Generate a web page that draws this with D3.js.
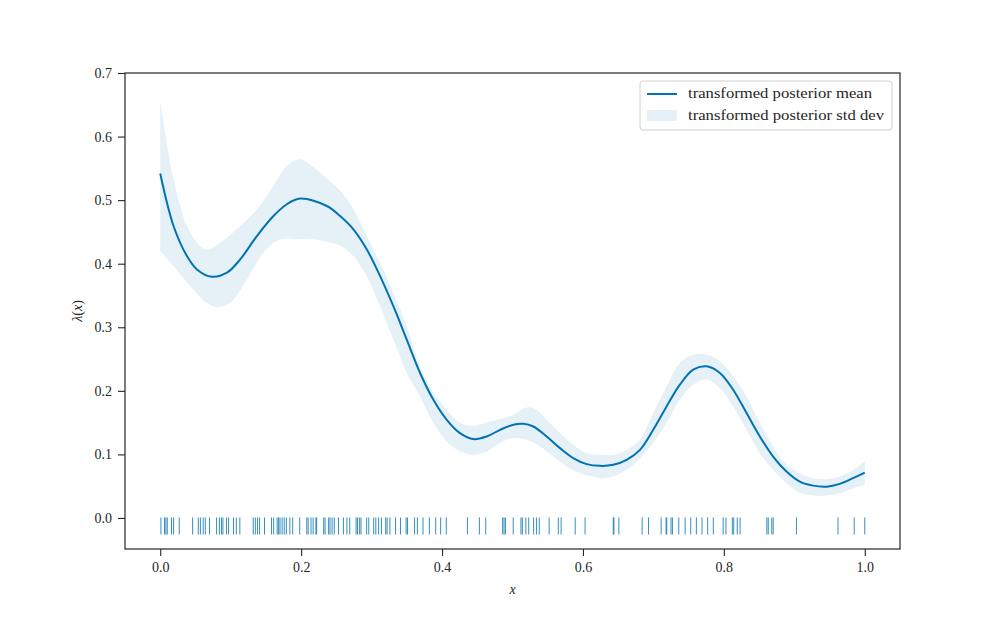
<!DOCTYPE html>
<html><head><meta charset="utf-8">
<script src="https://cdn.jsdelivr.net/npm/d3@7"></script>
<style>body{margin:0;background:#fff}svg{display:block}text{font-family:"Liberation Serif","DejaVu Serif",serif;fill:#262626}</style>
</head><body><svg id="c" width="1000" height="618"></svg>
<script>
const meanX=[0,0.0189,0.0379,0.0521,0.0733,0.0946,0.1135,0.1372,0.1607,0.1797,0.1986,0.2365,0.2553,0.2742,0.2932,0.3121,0.3309,0.3499,0.3688,0.3877,0.4067,0.4255,0.4444,0.4634,0.4823,0.5011,0.5153,0.5295,0.5485,0.5674,0.5862,0.6052,0.6241,0.6430,0.6620,0.6809,0.6997,0.7187,0.7376,0.7565,0.7755,0.7943,0.8132,0.8322,0.8511,0.8699,0.8889,0.9078,0.9267,0.9457,0.9645,0.9834,1.0];
const meanY=[0.5419,0.4593,0.4120,0.3910,0.3795,0.3858,0.4068,0.4435,0.4750,0.4935,0.5024,0.4908,0.4750,0.4541,0.4225,0.3804,0.3331,0.2806,0.2281,0.1860,0.1545,0.1335,0.1241,0.1282,0.1387,0.1466,0.1482,0.1439,0.1282,0.1099,0.0941,0.0847,0.0820,0.0836,0.0914,0.1072,0.1387,0.1755,0.2097,0.2333,0.2385,0.2281,0.2018,0.1651,0.1282,0.0966,0.0730,0.0572,0.0509,0.0493,0.0536,0.0626,0.0714];
const upperX=[0,0.0189,0.0379,0.0543,0.0662,0.0851,0.1135,0.1372,0.1607,0.1797,0.1986,0.2174,0.2365,0.2553,0.2742,0.2932,0.3121,0.3309,0.3499,0.3688,0.3877,0.4067,0.4255,0.4444,0.4634,0.4823,0.5011,0.5201,0.5343,0.5485,0.5674,0.5862,0.6052,0.6241,0.6430,0.6620,0.6809,0.6997,0.7187,0.7376,0.7565,0.7755,0.7943,0.8132,0.8322,0.8511,0.8699,0.8889,0.9078,0.9267,0.9457,0.9645,0.9834,1.0];
const upperY=[0.6563,0.5329,0.4593,0.4304,0.4225,0.4331,0.4593,0.4856,0.5223,0.5538,0.5644,0.5520,0.5340,0.5150,0.4856,0.4435,0.4015,0.3543,0.3016,0.2385,0.1966,0.1703,0.1493,0.1450,0.1502,0.1556,0.1624,0.1739,0.1703,0.1545,0.1335,0.1151,0.1020,0.0993,0.0993,0.1072,0.1230,0.1651,0.2070,0.2439,0.2570,0.2570,0.2464,0.2228,0.1912,0.1493,0.1124,0.0836,0.0705,0.0626,0.0610,0.0651,0.0757,0.0888];
const lowerX=[0,0.0189,0.0426,0.0662,0.0804,0.0993,0.1230,0.1465,0.1702,0.1939,0.2174,0.2411,0.2553,0.2742,0.2837,0.2932,0.3121,0.3309,0.3499,0.3688,0.3877,0.4067,0.4255,0.4444,0.4634,0.4823,0.5011,0.5201,0.5390,0.5579,0.5769,0.5957,0.6146,0.6241,0.6430,0.6620,0.6809,0.6997,0.7187,0.7376,0.7565,0.7755,0.7943,0.8132,0.8322,0.8511,0.8699,0.8889,0.9078,0.9267,0.9457,0.9645,0.9834,1.0];
const lowerY=[0.4198,0.3962,0.3647,0.3385,0.3315,0.3385,0.3752,0.4173,0.4383,0.4383,0.4383,0.4331,0.4288,0.4120,0.3973,0.3804,0.3331,0.2806,0.2281,0.1912,0.1493,0.1203,0.1045,0.0993,0.1045,0.1178,0.1257,0.1230,0.1124,0.0966,0.0809,0.0705,0.0651,0.0623,0.0651,0.0757,0.0941,0.1178,0.1493,0.1860,0.2097,0.2176,0.2045,0.1755,0.1387,0.1020,0.0757,0.0547,0.0399,0.0352,0.0352,0.0389,0.0468,0.0520];
const rugX=[0.001,0.006,0.008,0.010,0.016,0.019,0.027,0.046,0.054,0.057,0.061,0.064,0.070,0.080,0.084,0.087,0.089,0.094,0.097,0.104,0.108,0.113,0.132,0.135,0.138,0.141,0.148,0.158,0.161,0.166,0.168,0.170,0.173,0.176,0.179,0.184,0.188,0.198,0.208,0.210,0.214,0.217,0.221,0.222,0.232,0.234,0.239,0.241,0.244,0.247,0.253,0.260,0.265,0.269,0.278,0.280,0.283,0.285,0.293,0.296,0.303,0.306,0.310,0.314,0.320,0.322,0.326,0.334,0.341,0.349,0.351,0.361,0.365,0.373,0.382,0.391,0.398,0.406,0.436,0.453,0.462,0.486,0.488,0.490,0.501,0.512,0.514,0.519,0.523,0.530,0.534,0.538,0.552,0.565,0.569,0.589,0.603,0.643,0.644,0.651,0.684,0.693,0.711,0.718,0.719,0.725,0.727,0.736,0.745,0.753,0.761,0.769,0.777,0.785,0.799,0.803,0.812,0.814,0.819,0.823,0.861,0.863,0.868,0.870,0.903,0.962,0.985,1.0];
const xTicks=[0.0,0.2,0.4,0.6,0.8,1.0];
const yTicks=[0.0,0.1,0.2,0.3,0.4,0.5,0.6,0.7];
const legendLabels=["transformed posterior mean","transformed posterior std dev"];
const legendWidths=[184,196];

const col="#0173b2";
const svg=d3.select("#c");
const L=125,R=900,T=73,B=549;
const x=d3.scaleLinear().domain([-0.05,1.05]).range([L,R]);
const y=d3.scaleLinear().domain([-0.0488,0.7]).range([B,T]);

const band=upperX.map((v,i)=>[v,upperY[i]]);
const lowerPts=lowerX.map((v,i)=>[v,lowerY[i]]).reverse();
const ln=d3.line().x(d=>x(d[0])).y(d=>y(d[1])).curve(d3.curveCatmullRom.alpha(0.5));
const p1=ln(band), p2=ln(lowerPts);
svg.append("path").attr("d",p1+"L"+p2.slice(1)+"Z").attr("fill",col).attr("fill-opacity",0.1).attr("stroke","none");

svg.append("path").datum(meanX.map((v,i)=>[v,meanY[i]]))
  .attr("d",ln).attr("fill","none").attr("stroke",col).attr("stroke-width",2);

svg.append("g").selectAll("line").data(rugX).join("line")
  .attr("x1",d=>x(d)).attr("x2",d=>x(d)).attr("y1",y(0)-0.5).attr("y2",y(-0.026))
  .attr("stroke",col).attr("stroke-opacity",0.8).attr("stroke-width",1);

const ax=svg.append("g").attr("transform",`translate(0,${B})`)
  .call(d3.axisBottom(x).tickValues(xTicks).tickFormat(d3.format(".1f")).tickSizeOuter(0).tickSize(7).tickPadding(6.5));
const ay=svg.append("g").attr("transform",`translate(${L},0)`)
  .call(d3.axisLeft(y).tickValues(yTicks).tickFormat(d3.format(".1f")).tickSizeOuter(0).tickSize(7).tickPadding(6));
[ax,ay].forEach(g=>{g.select(".domain").remove();g.selectAll("line").attr("stroke","#262626").attr("stroke-width",1.1);
  g.selectAll("text").attr("font-size",14).attr("fill","#262626").style("font-family",'"Liberation Serif",serif');});
svg.append("rect").attr("x",L).attr("y",T).attr("width",R-L).attr("height",B-T)
  .attr("fill","none").attr("stroke","#262626").attr("stroke-width",1.2);

svg.append("text").attr("x",(L+R)/2).attr("y",594).attr("text-anchor","middle").attr("font-size",14)
  .attr("font-style","italic").text("x");
const yl=svg.append("text").attr("transform","translate(82,311) rotate(-90)").attr("text-anchor","middle").attr("font-size",14);
yl.append("tspan").attr("font-style","italic").text("λ");
yl.append("tspan").text("(");
yl.append("tspan").attr("font-style","italic").text("x");
yl.append("tspan").text(")");

const lg=svg.append("g");
lg.append("rect").attr("x",640).attr("y",81).attr("width",252).attr("height",49).attr("rx",3)
  .attr("fill","#fff").attr("fill-opacity",0.8).attr("stroke","#d0d0d0").attr("stroke-width",1);
lg.append("line").attr("x1",647).attr("x2",677).attr("y1",94).attr("y2",94).attr("stroke",col).attr("stroke-width",2);
lg.append("rect").attr("x",647).attr("y",110).attr("width",30).attr("height",11).attr("fill",col).attr("fill-opacity",0.1);
lg.selectAll("text.l").data(legendLabels).join("text").attr("class","l")
  .attr("x",688).attr("y",(d,i)=>98+i*22).attr("font-size",14)
  .attr("textLength",(d,i)=>legendWidths[i]).attr("lengthAdjust","spacingAndGlyphs").text(d=>d);
</script></body></html>
